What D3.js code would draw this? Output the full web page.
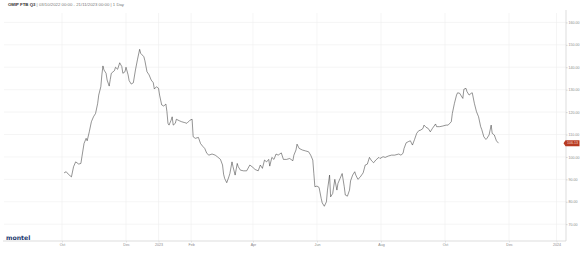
<!DOCTYPE html>
<html lang="en">
  <head>
    <meta charset="UTF-8" />
    <title>OMIP FTB Q3</title>
    <style>
      body {
        margin: 0;
        padding: 0;
        background-color: #fff;
        font-family: "Liberation Sans", Arial, sans-serif;
      }
      .grid line {
        stroke: #efefef;
        stroke-width: 0.6;
      }
      .axis text {
        fill: #8a8a8a;
        font-size: 3.6px;
      }
    </style>
  </head>
  <body>
    <svg id="chart"></svg>

    <script src="https://d3js.org/d3.v7.min.js"></script>
    <script>
      const width = 585;
      const height = 259;

      // daily settlement prices
      const dates = [
        "2022-10-03","2022-10-05","2022-10-07","2022-10-10","2022-10-12","2022-10-14","2022-10-17","2022-10-19","2022-10-20","2022-10-22",
        "2022-10-24","2022-10-25","2022-10-27","2022-10-29","2022-10-31","2022-11-02","2022-11-04","2022-11-05","2022-11-07","2022-11-08",
        "2022-11-09","2022-11-10","2022-11-12","2022-11-13","2022-11-15","2022-11-16","2022-11-17","2022-11-20","2022-11-21","2022-11-23",
        "2022-11-25","2022-11-27","2022-11-28","2022-11-30","2022-12-01","2022-12-03","2022-12-04","2022-12-06","2022-12-08","2022-12-10",
        "2022-12-12","2022-12-14","2022-12-15","2022-12-18","2022-12-19","2022-12-21","2022-12-23","2022-12-25","2022-12-27","2022-12-28",
        "2022-12-30","2023-01-01","2023-01-02","2023-01-04","2023-01-06","2023-01-08","2023-01-09","2023-01-10","2023-01-11","2023-01-13",
        "2023-01-14","2023-01-15","2023-01-17","2023-01-18","2023-01-21","2023-01-23","2023-01-26","2023-01-28","2023-01-31","2023-02-02",
        "2023-02-03","2023-02-05","2023-02-08","2023-02-10","2023-02-12","2023-02-14","2023-02-16","2023-02-18","2023-02-21","2023-02-24",
        "2023-02-26","2023-03-01","2023-03-03","2023-03-04","2023-03-05","2023-03-07","2023-03-09","2023-03-10","2023-03-12","2023-03-13",
        "2023-03-15","2023-03-17","2023-03-18","2023-03-20","2023-03-23","2023-03-26","2023-03-29","2023-04-01","2023-04-03","2023-04-06",
        "2023-04-08","2023-04-10","2023-04-12","2023-04-14","2023-04-16","2023-04-17","2023-04-19","2023-04-21","2023-04-23","2023-04-25",
        "2023-04-28","2023-04-30","2023-05-03","2023-05-06","2023-05-09","2023-05-10","2023-05-12","2023-05-13","2023-05-15","2023-05-18",
        "2023-05-21","2023-05-24","2023-05-26","2023-05-28","2023-05-29","2023-05-30","2023-06-01","2023-06-03","2023-06-05","2023-06-06",
        "2023-06-08","2023-06-10","2023-06-11","2023-06-13","2023-06-14","2023-06-16","2023-06-18","2023-06-20","2023-06-21","2023-06-23",
        "2023-06-25","2023-06-27","2023-06-28","2023-06-30","2023-07-02","2023-07-03","2023-07-05","2023-07-07","2023-07-08","2023-07-10",
        "2023-07-12","2023-07-15","2023-07-17","2023-07-19","2023-07-21","2023-07-23","2023-07-25","2023-07-27","2023-07-30","2023-07-31",
        "2023-08-03","2023-08-05","2023-08-08","2023-08-11","2023-08-14","2023-08-18","2023-08-20","2023-08-22","2023-08-23","2023-08-25",
        "2023-08-27","2023-08-29","2023-08-31","2023-09-02","2023-09-04","2023-09-06","2023-09-08","2023-09-10","2023-09-11","2023-09-13",
        "2023-09-15","2023-09-17","2023-09-19","2023-09-22","2023-09-23","2023-09-26","2023-09-29","2023-10-02","2023-10-04","2023-10-07",
        "2023-10-08","2023-10-10","2023-10-12","2023-10-13","2023-10-15","2023-10-16","2023-10-18","2023-10-19","2023-10-21","2023-10-22",
        "2023-10-24","2023-10-26","2023-10-27","2023-10-29","2023-10-31","2023-11-02","2023-11-04","2023-11-05","2023-11-07","2023-11-09",
        "2023-11-10","2023-11-12","2023-11-14","2023-11-15","2023-11-17","2023-11-19","2023-11-21"
      ];
      const values = [
        92.9, 93.4, 92.3, 91.1, 95.6, 97.8, 96.8, 97.1, 100.1, 106.0,
        108.3, 107.2, 111.2, 115.7, 117.9, 119.4, 123.9, 127.6, 131.3, 136.6,
        140.6, 138.8, 137.3, 134.3, 131.6, 134.6, 137.3, 138.5, 140.0, 139.1,
        142.0, 140.3, 137.3, 138.0, 140.0, 136.6, 134.0, 132.5, 133.1, 138.8,
        143.6, 148.0, 146.2, 144.7, 142.9, 138.0, 136.6, 134.3, 133.1, 130.3,
        131.3, 130.6, 127.6, 123.2, 122.7, 123.6, 120.2, 115.0, 114.2, 116.4,
        117.9, 114.2, 115.0, 116.8, 116.1, 115.7, 115.3, 115.0, 116.4, 116.8,
        109.0, 108.3, 108.7, 106.0, 104.8, 103.8, 101.6, 100.8, 101.3, 100.8,
        100.1, 98.9, 96.4, 92.3, 90.4, 88.5, 91.1, 92.6, 97.8, 95.6,
        91.9, 97.1, 95.6, 94.1, 93.8, 93.8, 96.4, 95.3, 94.4, 93.8,
        96.4, 94.9, 98.6, 97.8, 98.9, 95.9, 99.8, 98.9, 101.3, 100.8,
        101.8, 98.9, 98.9, 99.3, 98.3, 100.8, 103.1, 105.7, 103.8, 103.1,
        102.7, 102.3, 100.8, 98.6, 92.6, 86.7, 87.0, 86.4, 81.5, 79.5,
        78.0, 80.0, 85.2, 91.9, 82.2, 83.7, 90.0, 85.2, 88.2, 90.4,
        92.6, 86.7, 83.0, 82.5, 85.2, 89.3, 91.9, 93.4, 91.9, 90.0,
        90.9, 92.9, 96.4, 96.8, 99.8, 98.3, 97.4, 98.6, 99.8, 99.3,
        100.1, 99.8, 100.4, 100.8, 100.8, 101.3, 100.8, 101.6, 103.8, 106.3,
        106.8, 107.2, 105.3, 107.8, 110.5, 111.7, 112.0, 112.7, 114.2, 113.2,
        112.7, 111.2, 112.7, 114.7, 113.5, 113.5, 113.8, 114.2, 114.2, 115.7,
        119.4, 123.9, 127.6, 128.6, 128.4, 127.6, 126.1, 130.2, 130.6, 129.1,
        127.6, 128.4, 128.6, 123.9, 120.2, 117.9, 113.5, 112.3, 109.0, 107.8,
        108.3, 109.8, 114.2, 110.5, 109.8, 107.2, 106.13
      ];

      const xTickDates = [
        "2022-10-01", "2022-12-01", "2023-01-01", "2023-02-01", "2023-04-01",
        "2023-06-01", "2023-08-01", "2023-10-01", "2023-12-01", "2024-01-01"
      ];
      const xTickLabels = ["Oct", "Dec", "2023", "Feb", "Apr", "Jun", "Aug", "Oct", "Dec", "2024"];
      const yTicks = [70, 80, 90, 100, 110, 120, 130, 140, 150, 160];

      const parse = d3.timeParse("%Y-%m-%d");
      const data = dates.map((d, i) => ({ date: parse(d), value: values[i] }));
      const tickDates = xTickDates.map(parse);

      const plot = { left: 3, right: 566, top: 13, bottom: 241 };

      const svg = d3.select("#chart").attr("width", width).attr("height", height);

      // axis is not quite linear in time on the original, so pin three points
      const x = d3
        .scaleTime()
        .domain([parse("2022-10-01"), parse("2023-12-01"), parse("2024-01-01")])
        .range([62, 509, 556.5]);

      const y = d3.scaleLinear().domain([62.5, 164.2]).range([plot.bottom, plot.top]);

      // grid
      svg
        .append("g")
        .attr("class", "grid")
        .selectAll("line.h")
        .data(yTicks)
        .enter()
        .append("line")
        .attr("x1", plot.left + 1)
        .attr("x2", plot.right)
        .attr("y1", (d) => y(d))
        .attr("y2", (d) => y(d));

      svg
        .append("g")
        .attr("class", "grid")
        .selectAll("line.v")
        .data(tickDates)
        .enter()
        .append("line")
        .attr("x1", (d) => x(d))
        .attr("x2", (d) => x(d))
        .attr("y1", plot.top)
        .attr("y2", plot.bottom);

      // bottom axis
      const xAxis = d3
        .axisBottom(x)
        .tickValues(tickDates)
        .tickSize(1.5)
        .tickPadding(1)
        .tickFormat((d, i) => xTickLabels[i]);

      const gx = svg
        .append("g")
        .attr("class", "axis")
        .attr("transform", `translate(0,${plot.bottom})`)
        .call(xAxis);
      gx.select(".domain").remove();
      gx.selectAll(".tick line").attr("stroke", "#ccc").attr("stroke-width", 0.5);

      svg
        .append("line")
        .attr("x1", plot.left)
        .attr("x2", plot.right)
        .attr("y1", plot.bottom)
        .attr("y2", plot.bottom)
        .attr("stroke", "#cfcfcf")
        .attr("stroke-width", 0.7);

      // right axis
      const yAxis = d3
        .axisRight(y)
        .tickValues(yTicks)
        .tickSize(1.5)
        .tickPadding(1)
        .tickFormat(d3.format(".2f"));

      const gy = svg
        .append("g")
        .attr("class", "axis")
        .attr("transform", `translate(${plot.right},0)`)
        .call(yAxis);
      gy.select(".domain").remove();
      gy.selectAll(".tick line").attr("stroke", "#aaa").attr("stroke-width", 0.5);

      svg
        .append("line")
        .attr("x1", plot.right)
        .attr("x2", plot.right)
        .attr("y1", plot.top - 3)
        .attr("y2", plot.bottom)
        .attr("stroke", "#cfcfcf")
        .attr("stroke-width", 0.7);

      // price line
      const line = d3
        .line()
        .x((d) => x(d.date))
        .y((d) => y(d.value));

      svg
        .append("path")
        .datum(data)
        .attr("d", line)
        .attr("fill", "none")
        .attr("stroke", "#2a2a2a")
        .attr("stroke-width", 0.5)
        .attr("stroke-linejoin", "round");

      // last price marker
      const last = data[data.length - 1];
      const ly = y(last.value);
      const tag = svg.append("g").attr("transform", `translate(${plot.right},${ly})`);
      tag
        .append("path")
        .attr("d", "M-2.5,0 L-0.5,-3 L13.5,-3 L13.5,3 L-0.5,3 Z")
        .attr("fill", "#b73a22");
      tag
        .append("text")
        .attr("x", 6.5)
        .attr("y", 1.3)
        .attr("text-anchor", "middle")
        .attr("fill", "#f3d6cf")
        .style("font-size", "3.6px")
        .text(d3.format(".2f")(last.value));

      // title
      const title = svg
        .append("text")
        .attr("x", 8)
        .attr("y", 6.3)
        .style("font-size", "4.3px")
        .attr("fill", "#777");
      title
        .append("tspan")
        .attr("font-weight", "bold")
        .attr("fill", "#333")
        .text("OMIP FTB Q3 ");
      title.append("tspan").text("| 03/10/2022 00:00 - 21/11/2023 00:00 | 1 Day");

      // logo
      svg
        .append("text")
        .attr("x", 6)
        .attr("y", 240.2)
        .style("font-family", "'DejaVu Sans', sans-serif")
        .style("font-weight", "bold")
        .style("font-size", "6.2px")
        .attr("fill", "#1d3a6e")
        .text("montel");
    </script>
  </body>
</html>
